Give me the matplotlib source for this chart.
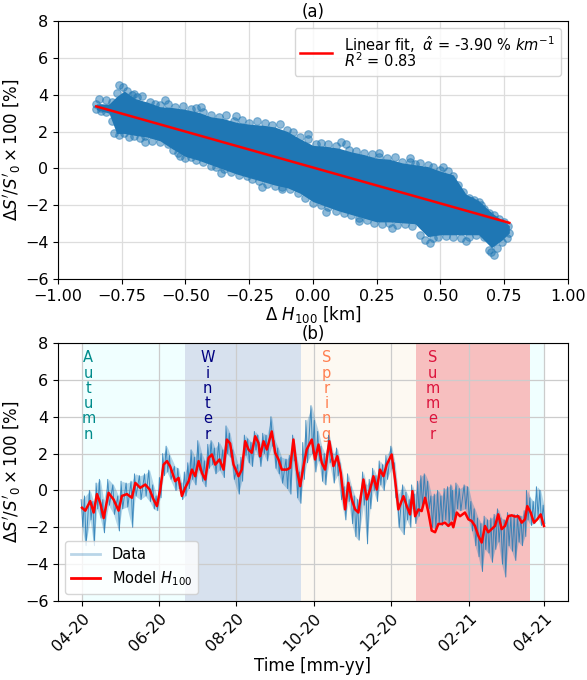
import datetime as dt

import matplotlib
matplotlib.use("Agg")
import matplotlib.pyplot as plt
import matplotlib.dates as mdates
from matplotlib.lines import Line2D
import numpy as np

# ---------------- panel (a): sensitivity to H100 ----------------
fit_slope = -3.90
fit_intercept = 0.05
fit_r2 = 0.83

# outline of the dense point cloud (x in km, y in %)
cloud_x = [-0.85, -0.80, -0.77, -0.74, -0.70, -0.65, -0.60, -0.55, -0.50, -0.45,
           -0.40, -0.35, -0.30, -0.25, -0.20, -0.15, -0.10, -0.05, 0.00, 0.05,
           0.10, 0.15, 0.20, 0.25, 0.30, 0.35, 0.40, 0.45, 0.50, 0.55,
           0.60, 0.65, 0.70, 0.74, 0.77]
cloud_hi = [3.5, 3.5, 3.9, 4.2, 3.8, 3.6, 3.35, 3.3, 3.2, 3.05,
            2.8, 2.7, 2.5, 2.4, 2.35, 2.25, 2.0, 1.6, 1.25, 1.2,
            1.1, 0.9, 0.75, 0.55, 0.5, 0.3, 0.2, 0.1, -0.15, -0.35,
            -1.4, -1.75, -2.4, -2.8, -3.1]
cloud_lo = [3.2, 3.0, 1.9, 1.9, 1.8, 1.7, 1.5, 1.05, 0.65, 0.45,
            0.2, -0.05, -0.3, -0.5, -0.7, -0.9, -1.05, -1.35, -1.8, -2.05,
            -2.3, -2.5, -2.7, -2.9, -2.9, -2.95, -3.0, -3.7, -3.6, -3.6,
            -3.6, -3.6, -4.3, -3.9, -3.5]

# individual samples along the rim of the cloud
rim_x = [-0.85, -0.84, -0.83, -0.81, -0.79, -0.77, -0.76, -0.745, -0.73, -0.71,
         -0.69, -0.67, -0.64, -0.62, -0.60, -0.57, -0.54, -0.51, -0.48, -0.46,
         -0.43, -0.40, -0.37, -0.34, -0.31, -0.28, -0.25, -0.22, -0.19, -0.16,
         -0.13, -0.10, -0.08, -0.05, -0.02, 0.01, 0.03, 0.06, 0.09, 0.11,
         0.14, 0.17, 0.20, 0.23, 0.26, 0.29, 0.32, 0.35, 0.38, 0.40,
         0.42, 0.45, 0.47, 0.50, 0.53, 0.55, 0.57, 0.59, 0.61, 0.63,
         0.65, 0.67, 0.69, 0.71, 0.73, 0.75, 0.765,
         -0.85, -0.83, -0.81, -0.79, -0.78, -0.76, -0.74, -0.72, -0.70, -0.68,
         -0.66, -0.63, -0.60, -0.57, -0.55, -0.53, -0.50, -0.48, -0.46, -0.43,
         -0.40, -0.38, -0.35, -0.32, -0.29, -0.26, -0.24, -0.21, -0.18, -0.15,
         -0.12, -0.09, -0.06, -0.03, 0.00, 0.03, 0.06, 0.09, 0.12, 0.15,
         0.18, 0.21, 0.24, 0.27, 0.30, 0.33, 0.36, 0.39, 0.42, 0.44,
         0.47, 0.49, 0.52, 0.55, 0.58, 0.61, 0.64, 0.67, 0.69, 0.70,
         0.72, 0.74, 0.76, 0.77,
         -0.12, -0.70, -0.58, -0.44, -0.30, -0.02, 0.13, 0.26, 0.38, 0.51,
         -0.66, -0.52, -0.36, -0.20, 0.05, 0.18, 0.31, 0.46, 0.60, 0.66,
         0.62, 0.71]
rim_y = [3.5, 3.75, 3.3, 3.7, 3.6, 4.1, 4.55, 4.4, 4.2, 4.0,
         3.85, 3.95, 3.6, 3.5, 3.45, 3.5, 3.35, 3.4, 3.2, 3.3,
         3.05, 2.9, 2.8, 2.9, 2.6, 2.65, 2.45, 2.55, 2.45, 2.35,
         2.4, 2.1, 2.0, 1.7, 1.6, 1.3, 1.4, 1.3, 1.2, 1.45,
         1.0, 0.95, 0.85, 0.8, 0.6, 0.55, 0.6, 0.35, 0.35, 0.25,
         0.3, 0.2, 0.1, -0.1, -0.15, -0.4, -0.9, -1.3, -1.6, -1.7,
         -1.8, -2.2, -2.4, -2.5, -2.75, -2.9, -3.1,
         3.2, 3.1, 3.05, 2.6, 1.9, 1.8, 1.95, 1.7, 1.75, 1.65,
         1.75, 1.5, 1.45, 1.3, 1.0, 0.85, 0.55, 0.6, 0.45, 0.35,
         0.15, 0.1, -0.05, -0.2, -0.35, -0.4, -0.55, -0.7, -0.85, -0.95,
         -1.0, -1.1, -1.35, -1.6, -1.85, -2.0, -2.1, -2.3, -2.4, -2.55,
         -2.7, -2.8, -2.95, -3.0, -2.95, -3.05, -3.0, -3.1, -3.6, -3.9,
         -3.8, -3.7, -3.65, -3.7, -3.75, -3.7, -3.6, -3.7, -4.4, -4.55,
         -4.3, -4.0, -3.8, -3.5,
         -1.1, 4.05, 3.7, 3.35, 2.85, 1.85, 1.35, 0.85, 0.55, 0.1,
         1.45, 0.7, -0.25, -1.0, -2.35, -2.85, -3.25, -4.05, -3.95, -2.0,
         -1.75, -4.7]

# ---------------- panel (b): time series ----------------
start_date = dt.datetime(2020, 4, 1)
model_days = [0, 2.6, 6.5, 9.2, 11.8, 14.4, 17.1, 21.0, 25.0, 28.9,
              31.5, 35.5, 39.4, 42.1, 46.0, 50.0, 53.4, 56.5, 59.2, 61.8,
              64.4, 67.1, 69.7, 73.6, 76.3, 78.9, 81.5, 84.2, 86.8, 89.4,
              92.1, 94.7, 97.3, 100.0, 102.6, 105.2, 108.6, 111.8, 114.4, 117.0,
              119.7, 123.6, 126.2, 128.9, 131.5, 134.1, 136.8, 139.4, 140.7, 143.4,
              146.0, 149.9, 152.6, 155.2, 157.8, 161.8, 164.4, 167.0, 169.7, 172.3,
              175.0, 177.5, 181.5, 184.1, 186.8, 189.4, 192.0, 195.4, 198.6, 201.7,
              204.4, 207.8, 210.4, 213.1, 215.7, 218.3, 222.3, 224.9, 227.5, 230.2,
              232.8, 235.4, 238.1, 240.7, 244.6, 247.3, 249.9, 253.9, 256.5, 259.1,
              261.0, 263.1, 265.7, 268.3, 271.0, 273.6, 276.2, 278.9, 281.5, 284.1,
              286.7, 289.4, 292.0, 293.3, 296.0, 298.6, 302.5, 305.2, 307.8, 310.4,
              313.0, 315.7, 318.3, 320.9, 323.6, 326.2, 328.8, 331.5, 334.1, 336.7,
              339.4, 342.0, 344.6, 347.3, 349.9, 351.7, 354.4, 357.0, 359.6, 362.3,
              364.9]
model_h100 = [-0.94, -1.1, -0.58, -1.2, -0.2, -0.67, -1.5, -0.13, -0.5, -1.1,
              -0.3, -0.2, -0.4, 0.41, 0.14, 0.32, 0.05, -0.49, -0.85, 0.05,
              1.4, 1.59, 1.3, 0.5, 0.68, -0.3, 0.14, 0.5, 1.13, 0.77,
              1.59, 0.95, 0.59, 1.77, 1.95, 1.4, 1.68, 1.13, 2.76, 2.55,
              1.4, 0.77, 1.13, 2.67, 2.22, 2.04, 2.94, 2.58, 1.86, 2.67,
              2.22, 3.2, 2.04, 1.68, 1.13, 1.13, 1.23, 2.76, 1.13, 0.23,
              1.32, 2.22, 2.76, 1.68, 2.49, 1.5, 1.13, 2.67, 1.32, 1.86,
              0.95, -1.03, 0.41, -0.49, -1.03, -1.2, 0.59, -0.49, 0.05, 0.77,
              0.05, 1.13, 0.77, 1.4, 1.95, 0.59, -1.03, -0.31, -0.85, -1.3,
              -0.04, -1.4, -1.03, -1.12, -0.4, -1.2, -2.18, -2.27, -1.82, -1.82,
              -1.75, -1.93, -1.75, -2.0, -1.2, -1.4, -1.2, -1.57, -1.66, -1.93,
              -2.45, -2.83, -1.93, -2.27, -2.1, -1.93, -1.3, -2.1, -1.93, -1.4,
              -1.35, -1.42, -1.4, -1.75, -1.57, -0.85, -1.2, -1.75, -1.57, -1.3,
              -1.93]
# measured signal: local highs and lows around each model day
data_high = [-0.5, -0.3, 0.0, -0.6, 0.4, 0.6, -0.5, 0.6, 0.3, -0.3,
             0.5, 0.4, 0.5, 0.9, 0.8, 0.9, 1.1, 0.3, -0.3, 0.7,
             2.0, 2.4, 1.9, 1.3, 1.2, 0.4, 1.0, 1.5, 2.2, 1.8,
             2.7, 2.0, 1.6, 2.5, 2.7, 2.3, 2.6, 2.2, 3.5, 3.1,
             2.2, 1.4, 1.8, 3.0, 2.8, 2.6, 3.2, 3.0, 2.5, 3.1,
             3.0, 4.0, 2.7, 2.3, 1.8, 1.7, 1.9, 3.0, 1.8, 1.0,
             2.6, 3.8, 4.6, 3.8, 3.2, 2.4, 2.0, 3.0, 2.0, 2.3,
             1.5, 0.2, 0.9, 0.2, -0.3, -0.5, 1.0, 0.3, 0.6, 1.2,
             0.8, 1.6, 1.4, 1.9, 2.4, 1.5, -0.2, 0.3, -0.1, -0.5,
             0.3, -0.2, 0.5, 0.8, 0.9, 0.5, -0.3, -0.2, 0.0, -0.3,
             0.1, 0.2, 0.3, 0.0, 0.4, 0.1, 0.3, 0.2, -0.6, -1.0,
             -1.5, -1.8, -1.4, -1.6, -1.5, -1.3, -1.0, -1.5, -1.6, -1.2,
             -1.4, -1.3, -1.3, -1.4, -1.1, 0.0, -0.4, -0.6, 0.2, 0.0,
             -0.8]
data_low = [-2.0, -3.0, -1.6, -3.0, -1.0, -1.5, -2.3, -0.8, -1.3, -2.2,
            -1.0, -0.9, -2.0, -0.3, -0.5, -0.3, -0.6, -1.0, -1.1, -0.4,
            0.8, 1.0, 0.6, 0.0, 0.1, -0.5, -0.3, 0.1, 0.6, 0.3,
            1.1, 0.5, 0.2, 1.2, 1.4, 0.9, 1.1, 0.7, 2.0, 1.8,
            0.6, -0.2, 0.5, 1.9, 1.5, 1.3, 2.2, 1.8, 1.3, 2.0,
            1.6, 2.4, 1.2, 0.9, 0.4, 0.1, -0.2, 1.6, -0.4, -0.7,
            0.6, 1.5, 2.0, 1.0, 1.6, 0.5, 0.3, 1.5, 0.4, 0.8,
            -0.5, -1.6, -0.6, -1.8, -2.5, -2.7, -0.8, -2.9, -1.0, 0.0,
            -0.6, 0.3, 0.0, 0.6, 1.2, -0.4, -2.0, -2.4, -1.6, -2.0,
            -1.0, -1.8, -1.4, -0.9, -0.6, -1.0, -2.0, -2.1, -1.8, -1.9,
            -1.6, -1.9, -1.6, -1.8, -1.0, -1.1, -1.0, -1.6, -2.2, -3.0,
            -3.6, -4.4, -3.2, -3.4, -3.9, -3.2, -2.8, -4.0, -4.7, -3.0,
            -3.3, -3.8, -2.8, -3.0, -2.5, -1.6, -1.9, -1.8, -1.4, -1.9,
            -1.8]

season_names = ["Autumn", "Winter", "Spring", "Summer"]
season_label_dates = [dt.datetime(2020, 4, 6), dt.datetime(2020, 7, 9),
                      dt.datetime(2020, 10, 11), dt.datetime(2021, 1, 3)]
season_text = ["darkcyan", "navy", "coral", "crimson"]
span_starts = [dt.datetime(2020, 4, 1), dt.datetime(2020, 6, 21), dt.datetime(2020, 9, 21),
               dt.datetime(2020, 12, 21), dt.datetime(2021, 3, 21)]
span_ends = [dt.datetime(2020, 6, 21), dt.datetime(2020, 9, 21), dt.datetime(2020, 12, 21),
             dt.datetime(2021, 3, 21), dt.datetime(2021, 4, 1)]
span_fill = ["azure", "lightsteelblue", "oldlace", "lightcoral", "azure"]
span_alpha = [1.0, 0.5, 0.5, 0.5, 1.0]

TICK_FS = 11.5
LABEL_FS = 12
ylabel = r"$\Delta S'/S'_0 \times 100$ [%]"

fig = plt.figure(figsize=(5.87, 6.8), dpi=100)
ax1 = fig.add_axes([0.0988, 0.5897, 0.8688, 0.3794])
ax2 = fig.add_axes([0.0988, 0.1162, 0.8688, 0.3794])

# ---- (a)
ax1.grid(True, color="#dddddd", linewidth=0.9, zorder=0)
ax1.fill_between(cloud_x, cloud_lo, cloud_hi, color="#1f77b4", linewidth=0, zorder=2)
ax1.scatter(rim_x, rim_y, s=30, color="#1f77b4", alpha=0.5, linewidths=0.8, zorder=3)
fx = np.array([min(rim_x), max(rim_x)])
ax1.plot(fx, fit_slope * fx + fit_intercept, color="red", lw=1.8, zorder=4,
         label=(r"Linear fit,  $\hat{\alpha}$ = %.2f %% $km^{-1}$" % fit_slope)
         + "\n" + r"$R^2$ = %.2f" % fit_r2)
ax1.set_xlim(-1.0, 1.0)
ax1.set_ylim(-6, 8)
ax1.set_xticks(np.arange(-1.0, 1.01, 0.25))
ax1.set_yticks(np.arange(-6, 9, 2))
ax1.set_xlabel(r"$\Delta\ H_{100}$ [km]", fontsize=LABEL_FS, labelpad=0)
ax1.set_ylabel(ylabel, fontsize=LABEL_FS, labelpad=1)
ax1.set_title("(a)", fontsize=LABEL_FS, pad=2)
ax1.tick_params(labelsize=TICK_FS)
leg1 = ax1.legend(loc="upper right", fontsize=10.5, handlelength=2.2)
for t in leg1.get_texts():
    t.set_linespacing(0.75)

# ---- (b)
ax2.grid(True, color="#cccccc", linewidth=0.9, zorder=1)
for s0, s1, fc, fa in zip(span_starts, span_ends, span_fill, span_alpha):
    ax2.axvspan(s0, s1, color=fc, alpha=fa, linewidth=0, zorder=0)
for name, d, tc in zip(season_names, season_label_dates, season_text):
    ax2.text(d, 7.6, "\n".join(name), color=tc, fontsize=10.5,
             ha="center", va="top", linespacing=1.02, zorder=2)

data_t, data_v = [], []
for d, hi, lo in zip(model_days, data_high, data_low):
    data_t += [start_date + dt.timedelta(days=d - 0.65), start_date + dt.timedelta(days=d + 0.65)]
    data_v += [hi, lo]
model_t = [start_date + dt.timedelta(days=d) for d in model_days]

ax2.fill_between(model_t, data_low, data_high, color="#1f77b4", alpha=0.3,
                 linewidth=0, zorder=2)
ax2.plot(data_t, data_v, color="#1f77b4", lw=0.7, alpha=0.8, zorder=3)
ax2.plot(model_t, model_h100, color="red", lw=1.8, zorder=4)
ax2.set_ylim(-6, 8)
ax2.set_yticks(np.arange(-6, 9, 2))
ax2.xaxis.set_major_locator(mdates.MonthLocator(bymonth=[2, 4, 6, 8, 10, 12]))
ax2.xaxis.set_major_formatter(mdates.DateFormatter("%m-%y"))
ax2.tick_params(labelsize=TICK_FS)
plt.setp(ax2.get_xticklabels(), rotation=45, ha="right", rotation_mode="anchor")
ax2.set_xlabel("Time [mm-yy]", fontsize=LABEL_FS, labelpad=2)
ax2.set_ylabel(ylabel, fontsize=LABEL_FS, labelpad=1)
ax2.set_title("(b)", fontsize=LABEL_FS, pad=2)
handles = [Line2D([], [], color="#1f77b4", alpha=0.3, lw=2),
           Line2D([], [], color="red", lw=2)]
ax2.legend(handles, ["Data", r"Model $H_{100}$"], loc="lower left", fontsize=10.5)

fig.savefig("out.png", dpi=100)
